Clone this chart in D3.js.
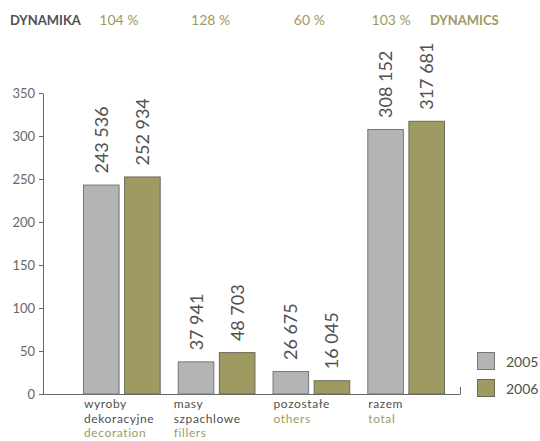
<!DOCTYPE html>
<html>
<head>
<meta charset="utf-8">
<script src="https://cdn.jsdelivr.net/npm/d3@7"></script>
<style>
  html, body { margin: 0; padding: 0; background: #fff; }
  svg { display: block; font-family: Lato, "Noto Sans", sans-serif; }
</style>
</head>
<body>
<svg id="chart" width="540" height="441"></svg>
<script>
// Sales by product group, 2005 vs 2006 (values in units; axis in thousands)
const categories = ["wyroby dekoracyjne", "masy szpachlowe", "pozostałe", "razem"];
const labelsPl = [["wyroby", "dekoracyjne"], ["masy", "szpachlowe"], ["pozostałe"], ["razem"]];
const labelsEn = ["decoration", "fillers", "others", "total"];
const years = ["2005", "2006"];
const values2005 = [243536, 37941, 26675, 308152];
const values2006 = [252934, 48703, 16045, 317681];
const dynamics = ["104 %", "128 %", "60 %", "103 %"];
const yTicks = [0, 50, 100, 150, 200, 250, 300, 350];

const series = { "2005": values2005, "2006": values2006 };
const colors = { "2005": "#b3b4b6", "2006": "#9f9962" };
const strokes = { "2005": "#767676", "2006": "#6a6a5e" };
const olive = "#9f9962";
const darkText = "#505050";

const svg = d3.select("#chart");

const x0 = d3.scaleBand().domain(categories).range([83, 445]).paddingInner(0.18).paddingOuter(0);
const x1 = d3.scaleBand().domain(years).range([0, x0.bandwidth()]).paddingInner(0.11);
const y = d3.scaleLinear().domain([0, 350]).range([394, 93]);

const fmt = v => d3.format(",")(v).replace(/,/g, " ");

// Y axis
const yAxis = svg.append("g")
  .attr("transform", "translate(43,0)")
  .call(d3.axisLeft(y).tickValues(yTicks).tickSize(4).tickSizeOuter(0).tickPadding(4));
yAxis.select(".domain").attr("stroke", "#666");
yAxis.selectAll(".tick line").attr("stroke", "#666");
yAxis.selectAll(".tick text")
  .attr("fill", "#666").attr("font-size", 13).attr("font-family", "Lato, sans-serif");

// Baseline with an end tick
svg.append("line").attr("x1", 43).attr("x2", 460.5).attr("y1", y(0) + 0.5).attr("y2", y(0) + 0.5)
  .attr("stroke", "#666");
svg.append("line").attr("x1", 460.5).attr("x2", 460.5).attr("y1", y(0)).attr("y2", y(0) - 7)
  .attr("stroke", "#666");

// Bars
const groups = svg.selectAll("g.group").data(categories).enter().append("g")
  .attr("class", "group")
  .attr("transform", d => `translate(${x0(d)},0)`);

groups.each(function (cat, i) {
  const g = d3.select(this);
  years.forEach(yr => {
    const v = series[yr][i];
    const bx = x1(yr);
    g.append("rect")
      .attr("x", bx + 0.5).attr("y", y(v / 1000) + 0.5)
      .attr("width", x1.bandwidth() - 1).attr("height", y(0) - y(v / 1000) - 0.5)
      .attr("fill", colors[yr]).attr("stroke", strokes[yr]).attr("stroke-width", 1);
    const cx = bx + x1.bandwidth() / 2;
    const ty = y(v / 1000) - 11;
    g.append("text")
      .attr("transform", `translate(${cx},${ty}) rotate(-90)`)
      .attr("dy", "0.36em")
      .attr("text-anchor", "start")
      .attr("font-size", 18)
      .attr("fill", darkText)
      .text(fmt(v));
  });

  // Category labels
  const lx = i === 1 ? -4 : 1;
  const lines = labelsPl[i];
  lines.forEach((t, k) => {
    g.append("text").attr("x", lx).attr("y", 408 + k * 14.5)
      .attr("font-size", 12).attr("letter-spacing", 0.6)
      .attr("fill", darkText).text(t);
  });
  g.append("text").attr("x", lx).attr("y", 408 + lines.length * 14.5)
    .attr("font-size", 12).attr("letter-spacing", 0.6)
    .attr("fill", olive).text(labelsEn[i]);
});

// Header row: dynamics
svg.append("text").attr("x", 10).attr("y", 25).attr("font-size", 13).attr("font-weight", 700)
  .attr("fill", darkText).text("DYNAMIKA");
const headerShift = [-3, -6, -2, -15];
svg.selectAll("text.dyn").data(dynamics).enter().append("text")
  .attr("class", "dyn")
  .attr("x", (d, i) => x0(categories[i]) + x0.bandwidth() / 2 + headerShift[i])
  .attr("y", 25).attr("text-anchor", "middle")
  .attr("font-size", 14).attr("fill", olive).text(d => d);
svg.append("text").attr("x", 430).attr("y", 25).attr("font-size", 13).attr("font-weight", 700)
  .attr("fill", olive).text("DYNAMICS");

// Legend
const legend = svg.append("g").attr("transform", "translate(477,352)");
years.forEach((yr, k) => {
  legend.append("rect").attr("x", 0.5).attr("y", k * 27 + 0.5).attr("width", 17).attr("height", 17)
    .attr("fill", colors[yr]).attr("stroke", strokes[yr]);
  legend.append("text").attr("x", 29).attr("y", k * 27 + 14.5)
    .attr("font-size", 14).attr("fill", darkText).text(yr);
});
</script>
</body>
</html>
